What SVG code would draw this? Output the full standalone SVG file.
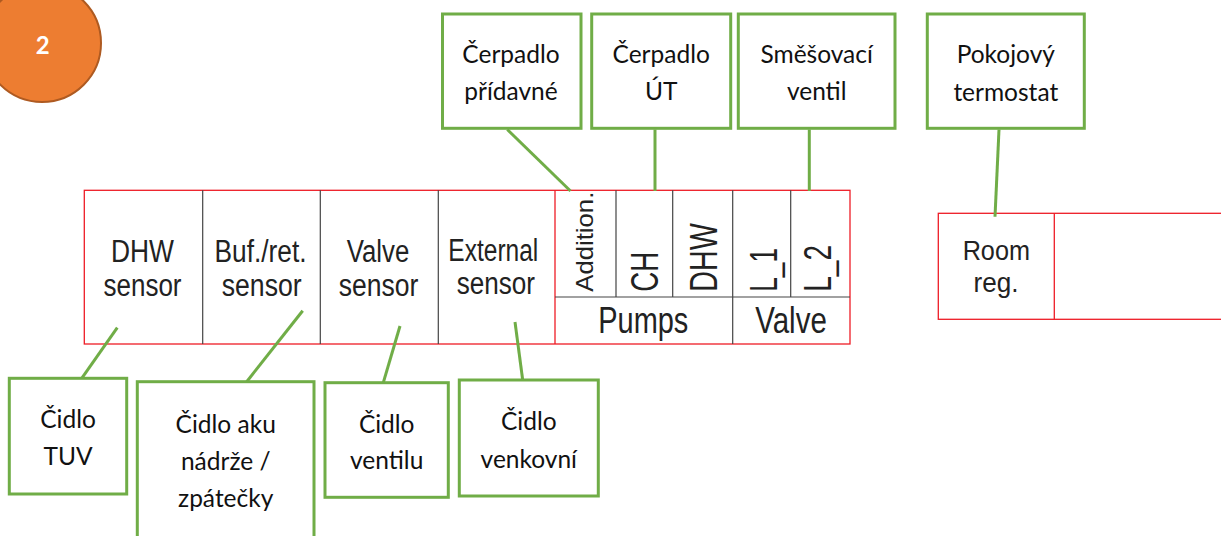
<svg xmlns="http://www.w3.org/2000/svg" width="1221" height="536" viewBox="0 0 1221 536">
<style>
.box{fill:#fff;stroke:#70AD47;stroke-width:3}
.conn{stroke:#70AD47;stroke-width:3;fill:none}
.lbl{font-family:Lato,"Noto Sans",sans-serif;font-size:24.5px;fill:#111;text-anchor:middle}
.tb{font-family:"Liberation Sans",Arial,sans-serif;fill:#222}
.red{stroke:#EE1C25;stroke-width:1.3;fill:none}
.gray{stroke:#444;stroke-width:1.2;fill:none}
</style>
<rect width="1221" height="536" fill="#fff"/>

<g id="badge">
<circle cx="42" cy="43" r="59" fill="#ED7D31" stroke="#AE5A21" stroke-width="2"/>
<text x="42.7" y="54" font-family="Lato,sans-serif" font-weight="bold" font-size="24" fill="#fff" text-anchor="middle">2</text>
</g>

<g id="terminal-strip">
<rect class="red" x="84.3" y="190.3" width="765.7" height="153.7"/>
<line class="gray" x1="202.7" y1="190.3" x2="202.7" y2="344"/>
<line class="gray" x1="320.3" y1="190.3" x2="320.3" y2="344"/>
<line class="gray" x1="438.3" y1="190.3" x2="438.3" y2="344"/>
<line class="red" x1="555" y1="190.3" x2="555" y2="344"/>
<line class="gray" x1="555" y1="297" x2="850" y2="297"/>
<line class="gray" x1="616" y1="190.3" x2="616" y2="297"/>
<line class="gray" x1="672.7" y1="190.3" x2="672.7" y2="297"/>
<line class="gray" x1="732.7" y1="190.3" x2="732.7" y2="344"/>
<line class="gray" x1="790.7" y1="190.3" x2="790.7" y2="297"/>
<g class="tb" font-size="31" text-anchor="middle">
<text x="142.5" y="261.7" textLength="63" lengthAdjust="spacingAndGlyphs">DHW</text>
<text x="142.5" y="295.7" textLength="78" lengthAdjust="spacingAndGlyphs">sensor</text>
<text x="260.5" y="261.7" textLength="92" lengthAdjust="spacingAndGlyphs">Buf./ret.</text>
<text x="261.7" y="295.7" textLength="80" lengthAdjust="spacingAndGlyphs">sensor</text>
<text x="378" y="261.7" textLength="62.6" lengthAdjust="spacingAndGlyphs">Valve</text>
<text x="378.5" y="295.7" textLength="79.6" lengthAdjust="spacingAndGlyphs">sensor</text>
<text x="493.3" y="261" textLength="90" lengthAdjust="spacingAndGlyphs">External</text>
<text x="495.8" y="294.3" textLength="78.3" lengthAdjust="spacingAndGlyphs">sensor</text>
</g>
<g class="tb">
<text transform="translate(593.3,291.7) rotate(-90)" font-size="24" textLength="100" lengthAdjust="spacingAndGlyphs">Addition.</text>
<text transform="translate(658.3,291.7) rotate(-90)" font-size="39" textLength="40" lengthAdjust="spacingAndGlyphs">CH</text>
<text transform="translate(716.7,291.7) rotate(-90)" font-size="39" textLength="68.4" lengthAdjust="spacingAndGlyphs">DHW</text>
<text transform="translate(777,291.7) rotate(-90)" font-size="38" textLength="43.7" lengthAdjust="spacingAndGlyphs">L_1</text>
<text transform="translate(831,291.7) rotate(-90)" font-size="38" textLength="46.7" lengthAdjust="spacingAndGlyphs">L_2</text>
<text x="643.3" y="333.3" font-size="36" text-anchor="middle" textLength="90" lengthAdjust="spacingAndGlyphs">Pumps</text>
<text x="791" y="333.3" font-size="36" text-anchor="middle" textLength="71.7" lengthAdjust="spacingAndGlyphs">Valve</text>
</g>
</g>

<g id="room-strip">
<rect class="red" x="938.3" y="213.3" width="300" height="106"/>
<line class="red" x1="1054.3" y1="213.3" x2="1054.3" y2="319.3"/>
<g class="tb" font-size="28" text-anchor="middle">
<text x="996.3" y="260" textLength="67.3" lengthAdjust="spacingAndGlyphs">Room</text>
<text x="996" y="292" textLength="45" lengthAdjust="spacingAndGlyphs">reg.</text>
</g>
</g>

<g id="connectors">
<line class="conn" x1="507.3" y1="129.5" x2="570.5" y2="191"/>
<line class="conn" x1="655" y1="129.5" x2="655" y2="191"/>
<line class="conn" x1="809.3" y1="129.5" x2="809.3" y2="191"/>
<line class="conn" x1="999" y1="129.5" x2="995" y2="216.7"/>
<line class="conn" x1="117.3" y1="327.7" x2="81.7" y2="378.3"/>
<line class="conn" x1="302.7" y1="310.7" x2="246.7" y2="381.7"/>
<line class="conn" x1="400" y1="326" x2="383.3" y2="382.7"/>
<line class="conn" x1="515" y1="322" x2="522.7" y2="380"/>
</g>

<g id="cerpadlo-pridavne">
<rect class="box" x="442.5" y="14" width="138.5" height="114.3"/>
<text class="lbl" x="511" y="63.3">Čerpadlo</text>
<text class="lbl" x="511" y="100">přídavné</text>
</g>
<g id="cerpadlo-ut">
<rect class="box" x="591.7" y="14" width="139" height="114.3"/>
<text class="lbl" x="661.2" y="63.3">Čerpadlo</text>
<text class="lbl" x="661.2" y="100">ÚT</text>
</g>
<g id="smesovaci-ventil">
<rect class="box" x="738.3" y="14" width="156.7" height="114.3"/>
<text class="lbl" x="816.7" y="63.3">Směšovací</text>
<text class="lbl" x="816.7" y="100">ventil</text>
</g>
<g id="pokojovy-termostat">
<rect class="box" x="927.3" y="14" width="157" height="114.3"/>
<text class="lbl" x="1005.8" y="63.3">Pokojový</text>
<text class="lbl" x="1005.8" y="100.7">termostat</text>
</g>

<g id="cidlo-tuv">
<rect class="box" x="9.3" y="378.3" width="117.4" height="115.7"/>
<text class="lbl" x="68" y="428.3">Čidlo</text>
<text class="lbl" x="68" y="465">TUV</text>
</g>
<g id="cidlo-aku">
<rect class="box" x="137.3" y="381.7" width="176.7" height="170"/>
<text class="lbl" x="225.7" y="433.3">Čidlo aku</text>
<text class="lbl" x="225.7" y="470">nádrže /</text>
<text class="lbl" x="225.7" y="506.7">zpátečky</text>
</g>
<g id="cidlo-ventilu">
<rect class="box" x="325" y="382.7" width="123.3" height="114.6"/>
<text class="lbl" x="386.7" y="433.3">Čidlo</text>
<text class="lbl" x="386.7" y="469.3">ventilu</text>
</g>
<g id="cidlo-venkovni">
<rect class="box" x="459.3" y="380" width="139" height="116"/>
<text class="lbl" x="528.8" y="430">Čidlo</text>
<text class="lbl" x="528.8" y="468.3">venkovní</text>
</g>
</svg>
